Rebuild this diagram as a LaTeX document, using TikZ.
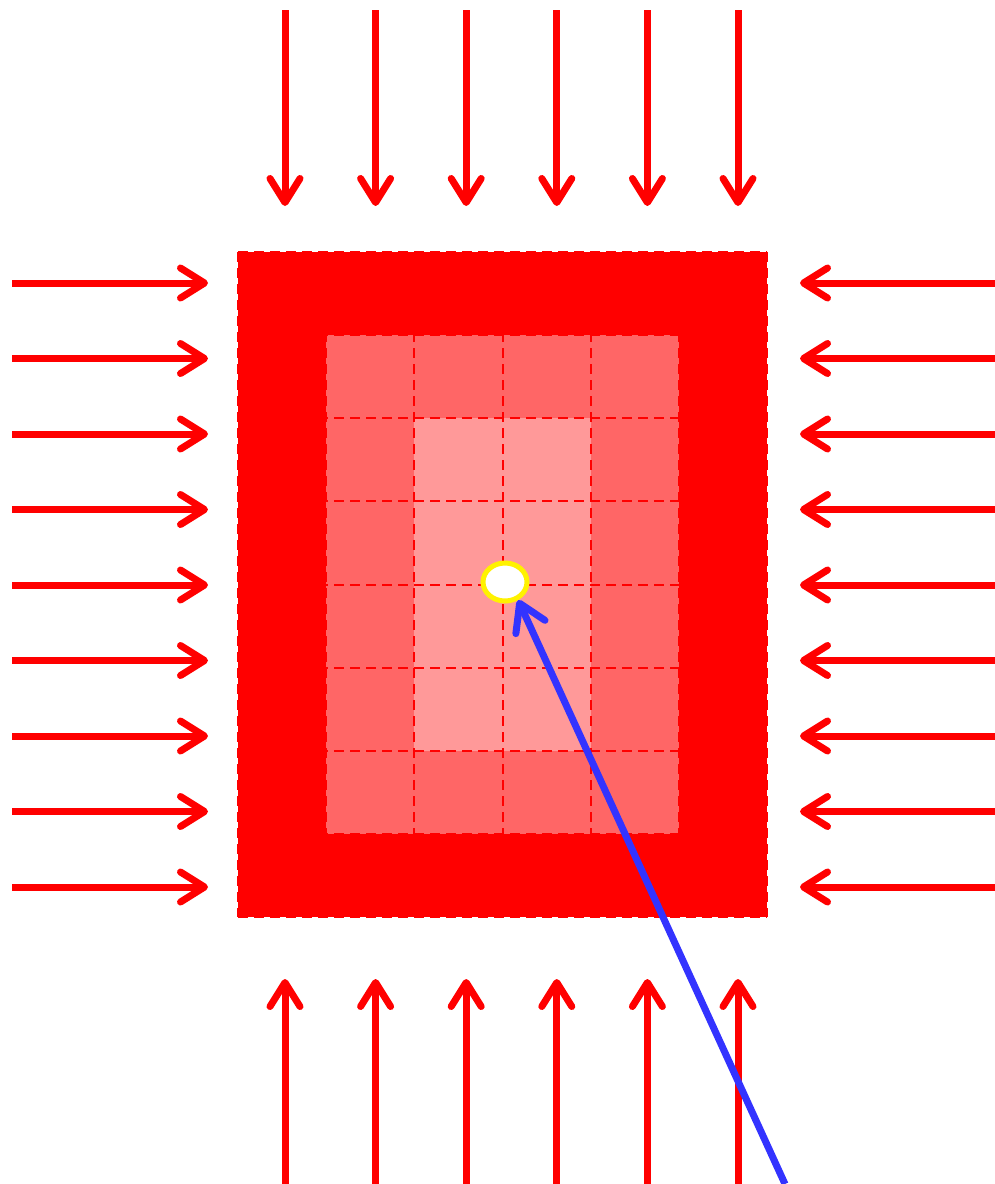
\documentclass[tikz,border=0pt]{standalone}
\usetikzlibrary{arrows.meta,shapes.geometric}
\definecolor{ringred}{HTML}{FF6666}
\definecolor{corered}{HTML}{FF9999}
\definecolor{rayblue}{HTML}{3333FF}
\tikzset{
    flux/.style={red, line width=3.5pt, -{Straight Barb[round, length=12pt, width=15pt]}},
    cellline/.style={red, line width=1pt, dash pattern=on 5pt off 3pt},
}
\begin{document}
\begin{tikzpicture}[x=0.5pt, y=-0.5pt]
    \useasboundingbox (0,0) rectangle (995,1184);

    % Block layers
    \fill[red] (238,252) rectangle (767,917);
    \fill[ringred] (326.2,335.1) rectangle (678.8,833.9);
    \fill[corered] (414.3,418.2) rectangle (590.7,750.8);

    % Cell borders
    \foreach \i in {0,...,6}
        \draw[cellline] (238+\i*88.17,252) -- (238+\i*88.17,917);
    \foreach \j in {0,...,8}
        \draw[cellline] (238,252+\j*83.125) -- (767,252+\j*83.125);

    % Incoming flux, top and bottom
    \foreach \k in {0,...,5} {
        \draw[flux] (285+\k*90.6,10) -- (285+\k*90.6,206);
        \draw[flux] (285+\k*90.6,1184) -- (285+\k*90.6,979);
    }

    % Incoming flux, left and right
    \foreach \k in {0,...,8} {
        \draw[flux] (12,283+\k*75.5) -- (208,283+\k*75.5);
        \draw[flux] (995,283+\k*75.5) -- (800,283+\k*75.5);
    }

    % Point and ray
    \node[ellipse, draw=yellow, fill=white, line width=2.5pt, inner sep=0pt,
          minimum width=22pt, minimum height=19pt] (hole) at (505,582) {};
    \coordinate (src) at (785,1184);
    \draw[rayblue, line width=3.5pt, -{Straight Barb[round, length=13pt, width=16pt]}] (src) -- (hole.-54);
\end{tikzpicture}
\end{document}
